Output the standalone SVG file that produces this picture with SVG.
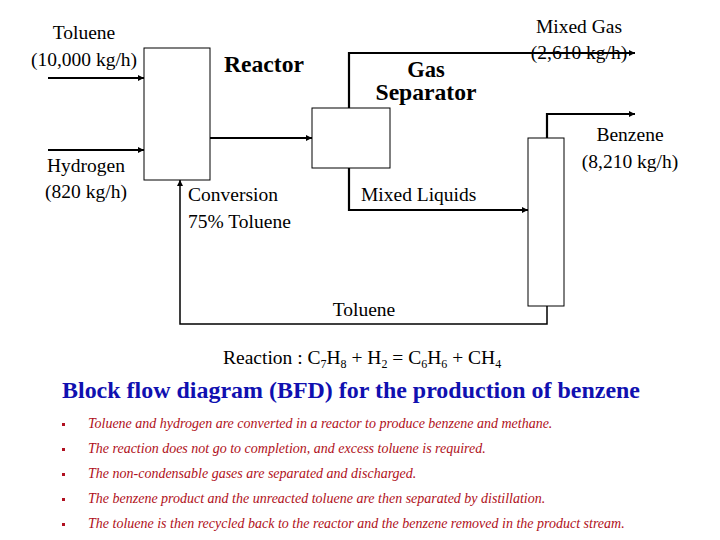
<svg xmlns="http://www.w3.org/2000/svg" width="720" height="540" viewBox="0 0 720 540">
<defs>
<marker id="ah" viewBox="0 0 10 10" refX="10" refY="5" markerWidth="6" markerHeight="6" markerUnits="userSpaceOnUse" orient="auto">
<path d="M0,0 L10,5 L0,10 z" fill="#000"/>
</marker>
</defs>
<style>
.box{fill:#fff;stroke:#000;stroke-width:1}
.ln{fill:none;stroke:#000;stroke-width:2.2;marker-end:url(#ah)}
.ln2{fill:none;stroke:#000;stroke-width:1.5;marker-end:url(#ah)}
.t{font-family:"Liberation Serif","Times New Roman",serif;font-size:19.5px;fill:#000}
.b{font-family:"Liberation Serif","Times New Roman",serif;font-size:22.5px;font-weight:bold;fill:#000}
.title{font-family:"Liberation Serif","Times New Roman",serif;font-size:23px;font-weight:bold;fill:#1010b0}
.bl{font-family:"Liberation Serif","Times New Roman",serif;font-size:14px;font-style:italic;fill:#b01020}
.dot{fill:#b01020}
</style>
<rect width="720" height="540" fill="#fff"/>
<g id="connectors">
<line class="ln" x1="48" y1="78" x2="144" y2="78"/>
<line class="ln" x1="48" y1="150" x2="144" y2="150"/>
<line class="ln" x1="210" y1="138" x2="312" y2="138"/>
<polyline class="ln" points="349,108 349,53 635,53"/>
<polyline class="ln" points="349,168 349,210 528,210"/>
<polyline class="ln" points="547,138 547,114 635,114"/>
<polyline class="ln2" points="547,306 547,324 180,324 180,180"/>
</g>
<g id="reactor">
<rect class="box" x="144" y="48" width="66" height="132"/>
<text class="b" x="264" y="72" text-anchor="middle" textLength="80" lengthAdjust="spacingAndGlyphs">Reactor</text>
</g>
<g id="gas-separator">
<rect class="box" x="312" y="108" width="78" height="60"/>
<text class="b" x="426" y="77" text-anchor="middle">Gas</text>
<text class="b" x="426" y="100" text-anchor="middle" textLength="101" lengthAdjust="spacingAndGlyphs">Separator</text>
</g>
<g id="column">
<rect class="box" x="528" y="138" width="36" height="168"/>
</g>
<g id="labels">
<text class="t" x="84" y="39" text-anchor="middle">Toluene</text>
<text class="t" x="84" y="66" text-anchor="middle">(10,000 kg/h)</text>
<text class="t" x="86" y="172" text-anchor="middle">Hydrogen</text>
<text class="t" x="86" y="198" text-anchor="middle">(820 kg/h)</text>
<text class="t" x="579" y="33" text-anchor="middle">Mixed Gas</text>
<text class="t" x="579" y="59" text-anchor="middle">(2,610 kg/h)</text>
<text class="t" x="630" y="141" text-anchor="middle">Benzene</text>
<text class="t" x="630" y="168" text-anchor="middle">(8,210 kg/h)</text>
<text class="t" x="188" y="201">Conversion</text>
<text class="t" x="188" y="228">75% Toluene</text>
<text class="t" x="361" y="201">Mixed Liquids</text>
<text class="t" x="364" y="316" text-anchor="middle">Toluene</text>
<text class="t" x="223" y="364" font-size="17.5">Reaction : C<tspan font-size="12" dy="4">7</tspan><tspan dy="-4">H</tspan><tspan font-size="12" dy="4">8</tspan><tspan dy="-4"> + H</tspan><tspan font-size="12" dy="4">2</tspan><tspan dy="-4"> = C</tspan><tspan font-size="12" dy="4">6</tspan><tspan dy="-4">H</tspan><tspan font-size="12" dy="4">6</tspan><tspan dy="-4"> + CH</tspan><tspan font-size="12" dy="4">4</tspan></text>
</g>
<g id="notes">
<text class="title" x="62" y="398" textLength="578" lengthAdjust="spacingAndGlyphs">Block flow diagram (BFD) for the production of benzene</text>
<rect class="dot" x="62" y="423" width="3" height="3"/>
<rect class="dot" x="62" y="448" width="3" height="3"/>
<rect class="dot" x="62" y="473" width="3" height="3"/>
<rect class="dot" x="62" y="498" width="3" height="3"/>
<rect class="dot" x="62" y="523" width="3" height="3"/>
<text class="bl" x="88" y="428">Toluene and hydrogen are converted in a reactor to produce benzene and methane.</text>
<text class="bl" x="88" y="453">The reaction does not go to completion, and excess toluene is required.</text>
<text class="bl" x="88" y="478">The non-condensable gases are separated and discharged.</text>
<text class="bl" x="88" y="503">The benzene product and the unreacted toluene are then separated by distillation.</text>
<text class="bl" x="88" y="528">The toluene is then recycled back to the reactor and the benzene removed  in the  product stream.</text>
</g>
</svg>
